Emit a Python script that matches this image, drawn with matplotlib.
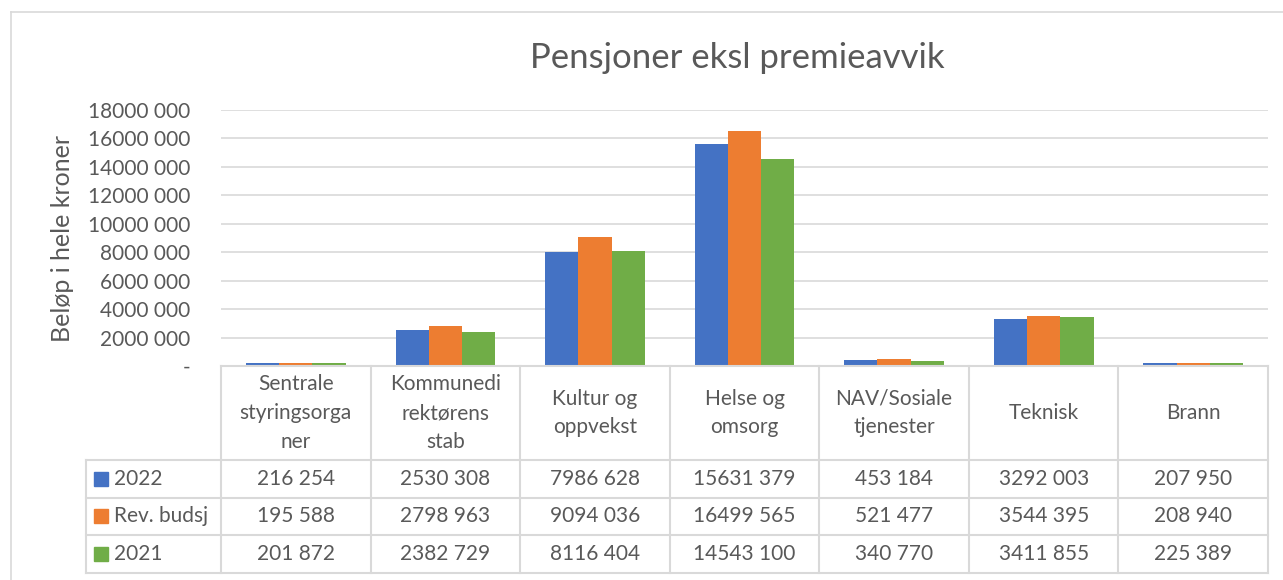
import matplotlib.pyplot as plt
import numpy as np
from matplotlib.patches import Rectangle

categories = ["Sentrale\nstyringsorga\nner", "Kommunedi\nrektørens\nstab", "Kultur og\noppvekst",
              "Helse og\nomsorg", "NAV/Sosiale\ntjenester", "Teknisk", "Brann"]
series_names = ["2022", "Rev. budsj", "2021"]
v2022 = [216254, 2530308, 7986628, 15631379, 453184, 3292003, 207950]
vrev = [195588, 2798963, 9094036, 16499565, 521477, 3544395, 208940]
v2021 = [201872, 2382729, 8116404, 14543100, 340770, 3411855, 225389]
y_ticks = [0, 2000000, 4000000, 6000000, 8000000, 10000000, 12000000, 14000000, 16000000, 18000000]

colors = ["#4472C4", "#ED7D31", "#70AD47"]
grey_txt = "#595959"
grid_c = "#D9D9D9"
plt.rcParams['font.family'] = ['Lato', 'DejaVu Sans']


def fmt(v):
    if v == 0:
        return "-"
    if v >= 1000:
        return f"{v // 1000} {v % 1000:03d}"
    return str(v)


W, H = 1283, 580
fig = plt.figure(figsize=(W / 100, H / 100), dpi=100)

# outer frame
fig.add_artist(plt.Line2D([11 / W, 11 / W], [0, 1 - 12 / H], color=grid_c, lw=1.2))
fig.add_artist(plt.Line2D([11 / W, 1], [1 - 12 / H, 1 - 12 / H], color=grid_c, lw=1.2))

# bar area
x0, x1, ytop, ybot = 221, 1268, 110, 366
ax = fig.add_axes([x0 / W, 1 - ybot / H, (x1 - x0) / W, (ybot - ytop) / H])
x = np.arange(len(categories))
bw = 1 / 4.5
for i, (vals, c) in enumerate(zip([v2022, vrev, v2021], colors)):
    ax.bar(x + (i - 1) * bw, vals, width=bw, color=c, zorder=2)
ax.set_xlim(-0.5, len(categories) - 0.5)
ax.set_ylim(0, 18000000)
ax.set_yticks(y_ticks)
ax.set_yticklabels([fmt(t) for t in y_ticks], fontsize=15, color=grey_txt)
ax.tick_params(axis='y', length=0, pad=22)
ax.set_xticks([])
ax.grid(axis='y', color=grid_c, lw=1.2, zorder=0)
for s in ax.spines.values():
    s.set_visible(False)
ax.yaxis.set_label_coords((63 - x0) / (x1 - x0), 0.5)
ax.set_ylabel("Beløp i hele kroner", fontsize=18, color=grey_txt, va='center')
fig.text(737 / W, 1 - 58 / H, "Pensjoner eksl premieavvik", ha='center', va='center',
         fontsize=25, color=grey_txt)

# data table
tl, tt, tb = 86, 366, 573
cw = (x1 - x0) / len(categories)
tax = fig.add_axes([tl / W, 1 - tb / H, (x1 - tl) / W, (tb - tt) / H])
left = -0.5 - (x0 - tl) / cw
tax.set_xlim(left, len(categories) - 0.5)
tax.set_ylim(tb - tt, 0)
tax.axis('off')
rows_y = [0, 94, 131.5, 169, 207]
lc = dict(color=grid_c, lw=1.5, clip_on=False)
tax.plot([-0.5, len(categories) - 0.5], [0, 0], **lc)
for yy in rows_y[1:]:
    tax.plot([left, len(categories) - 0.5], [yy, yy], **lc)
tax.plot([left, left], [rows_y[1], rows_y[-1]], **lc)
for k in range(len(categories) + 1):
    tax.plot([k - 0.5, k - 0.5], [0, rows_y[-1]], **lc)
for k, cat in enumerate(categories):
    tax.text(k, rows_y[1] / 2, cat, ha='center', va='center', fontsize=15,
             color=grey_txt, linespacing=1.55)
for r, (name, vals, c) in enumerate(zip(series_names, [v2022, vrev, v2021], colors)):
    yc = (rows_y[r + 1] + rows_y[r + 2]) / 2
    sq = 14 / cw
    tax.add_patch(Rectangle((left + 8 / cw, yc - 7), sq, 14, color=c, clip_on=False))
    tax.text(left + 28 / cw, yc, name, ha='left', va='center', fontsize=15, color=grey_txt)
    for k, v in enumerate(vals):
        tax.text(k, yc, fmt(v), ha='center', va='center', fontsize=15, color=grey_txt)

fig.savefig("out.png", dpi=100)
